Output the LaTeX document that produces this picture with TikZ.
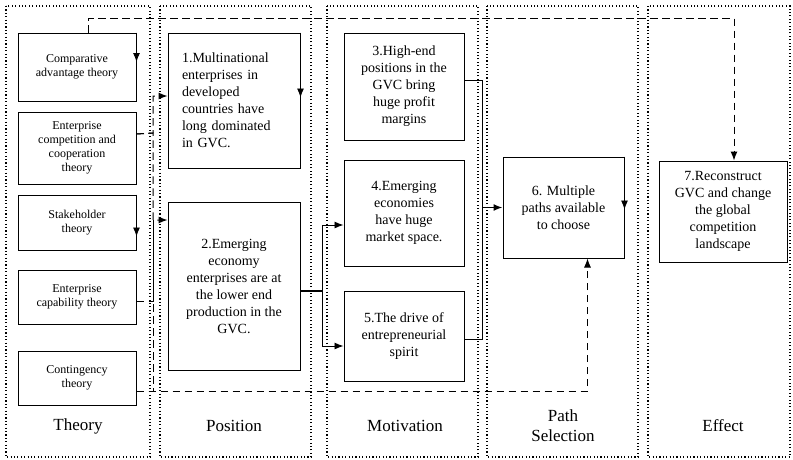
\documentclass[tikz,border=0pt]{standalone}
\usepackage{fontspec}
\setmainfont{Liberation Serif}
\usetikzlibrary{arrows.meta,positioning}

\begin{document}
\begin{tikzpicture}[x=1pt,y=-1pt,line width=0.9pt,
  frm/.style={line width=1.1pt,dash pattern=on 1.1pt off 2.3pt},
  dsh/.style={line width=1pt,dash pattern=on 7.5pt off 4.5pt},
  tip/.style={-{Latex[length=9pt,width=7pt]}},
  thbox/.style={draw,line width=1pt,minimum width=118pt,align=center,font=\fontsize{12}{14}\selectfont},
  box/.style={draw,line width=1pt,align=center,font=\fontsize{14}{17}\selectfont},
  lbl/.style={align=center,font=\fontsize{17}{20}\selectfont}]
        \useasboundingbox (0,0) rectangle (793,459);
        \draw[frm] (6,6) rectangle (150,457);
        \draw[frm] (160,6) rectangle (311,457);
        \draw[frm] (327,6) rectangle (478,457);
        \draw[frm] (487,6) rectangle (638,457);
        \draw[frm] (648,6) rectangle (790,457);
        \node[thbox,minimum height=68pt] (cmp) at (77,67) {Comparative\\advantage theory};
        \node[thbox,minimum height=72pt,below=10pt of cmp] (ecc) {Enterprise\\competition and\\cooperation\\theory};
        \node[thbox,minimum height=55pt,below=10pt of ecc] (stk) {Stakeholder\\theory};
        \node[thbox,minimum height=54pt,below=19pt of stk] (cap) {Enterprise\\capability theory};
        \node[thbox,minimum height=54pt,below=26pt of cap] (cnt) {Contingency\\theory};
        \node[box,minimum width=132pt,minimum height=135pt,text width=104pt,align=left] (pos1) at (234,100.5) {1.Multinational\\enterprises in\\developed\\countries have\\long dominated\\in GVC.};
        \node[box,minimum width=132pt,minimum height=168pt] (pos2) at (234,286) {2.Emerging\\economy\\enterprises are at\\the lower end\\production in the\\GVC.};
        \node[box,minimum width=120pt,minimum height=107pt] (mot3) at (404,86.5) {3.High-end\\positions in the\\GVC bring\\huge profit\\margins};
        \node[box,minimum width=120pt,minimum height=106pt] (mot4) at (404,213) {4.Emerging\\economies\\have huge\\market space.};
        \node[box,minimum width=120pt,minimum height=90pt] (mot5) at (404,336) {5.The drive of\\entrepreneurial\\spirit};
        \node[box,minimum width=121pt,minimum height=101pt] (path) at (563.5,207.5) {6. Multiple\\paths available\\to choose};
        \node[box,minimum width=128pt,minimum height=101pt] (eff) at (723,211.5) {7.Reconstruct\\GVC and change\\the global\\competition\\landscape};
        \node[lbl] (lth) at (78,426) {Theory};
        \node[lbl] (lpos) at (234,426) {Position};
        \node[lbl] (lmot) at (405,426) {Motivation};
        \node[lbl] (lpath) at (563,426) {Path\\Selection};
        \node[lbl] (leff) at (723,426) {Effect};
        \draw[tip] (cmp.north east) -- ([yshift=5pt]cmp.east);
        \draw[tip] (stk.north east) -- ([yshift=-14pt]stk.east);
        \draw[tip] (pos1.north east) -- ([yshift=3pt]pos1.east);
        \draw[tip] (path.north east) -- ([yshift=-2pt]path.east);
        \draw[dsh,tip] ([xshift=11pt]cmp.north) -- ++(0,-14) -| ([xshift=11pt]eff.north);
        \draw[dsh,tip] ([yshift=14pt]ecc.east) -- (153,133) |- (pos1.west |- 0,96);
        \draw[dsh,tip] ([yshift=14pt]ecc.east) -- (153,133) |- (pos2.west |- 0,220);
        \draw[dsh] ([yshift=-4pt]cap.east) -| (153,220);
        \draw[dsh] ([yshift=-13pt]cnt.east) -| (153,220);
        \draw[dsh,tip] ([yshift=-13pt]cnt.east) -| ([xshift=24pt]path.south);
        \coordinate (s1) at (322,291);
        \draw[line width=1.4pt] ([yshift=-5pt]pos2.east) -- (s1);
        \draw[tip] (s1) |- ([yshift=-12pt]mot4.west);
        \draw[tip] (s1) |- ([yshift=-10pt]mot5.west);
        \coordinate (s2) at (482,207.5);
        \draw ([yshift=6pt]mot3.east) -| (s2);
        \draw ([yshift=-3pt]mot5.east) -| (s2);
        \draw[line width=1.4pt,tip] (s2) -- (path.west);
      \end{tikzpicture}
\end{document}
